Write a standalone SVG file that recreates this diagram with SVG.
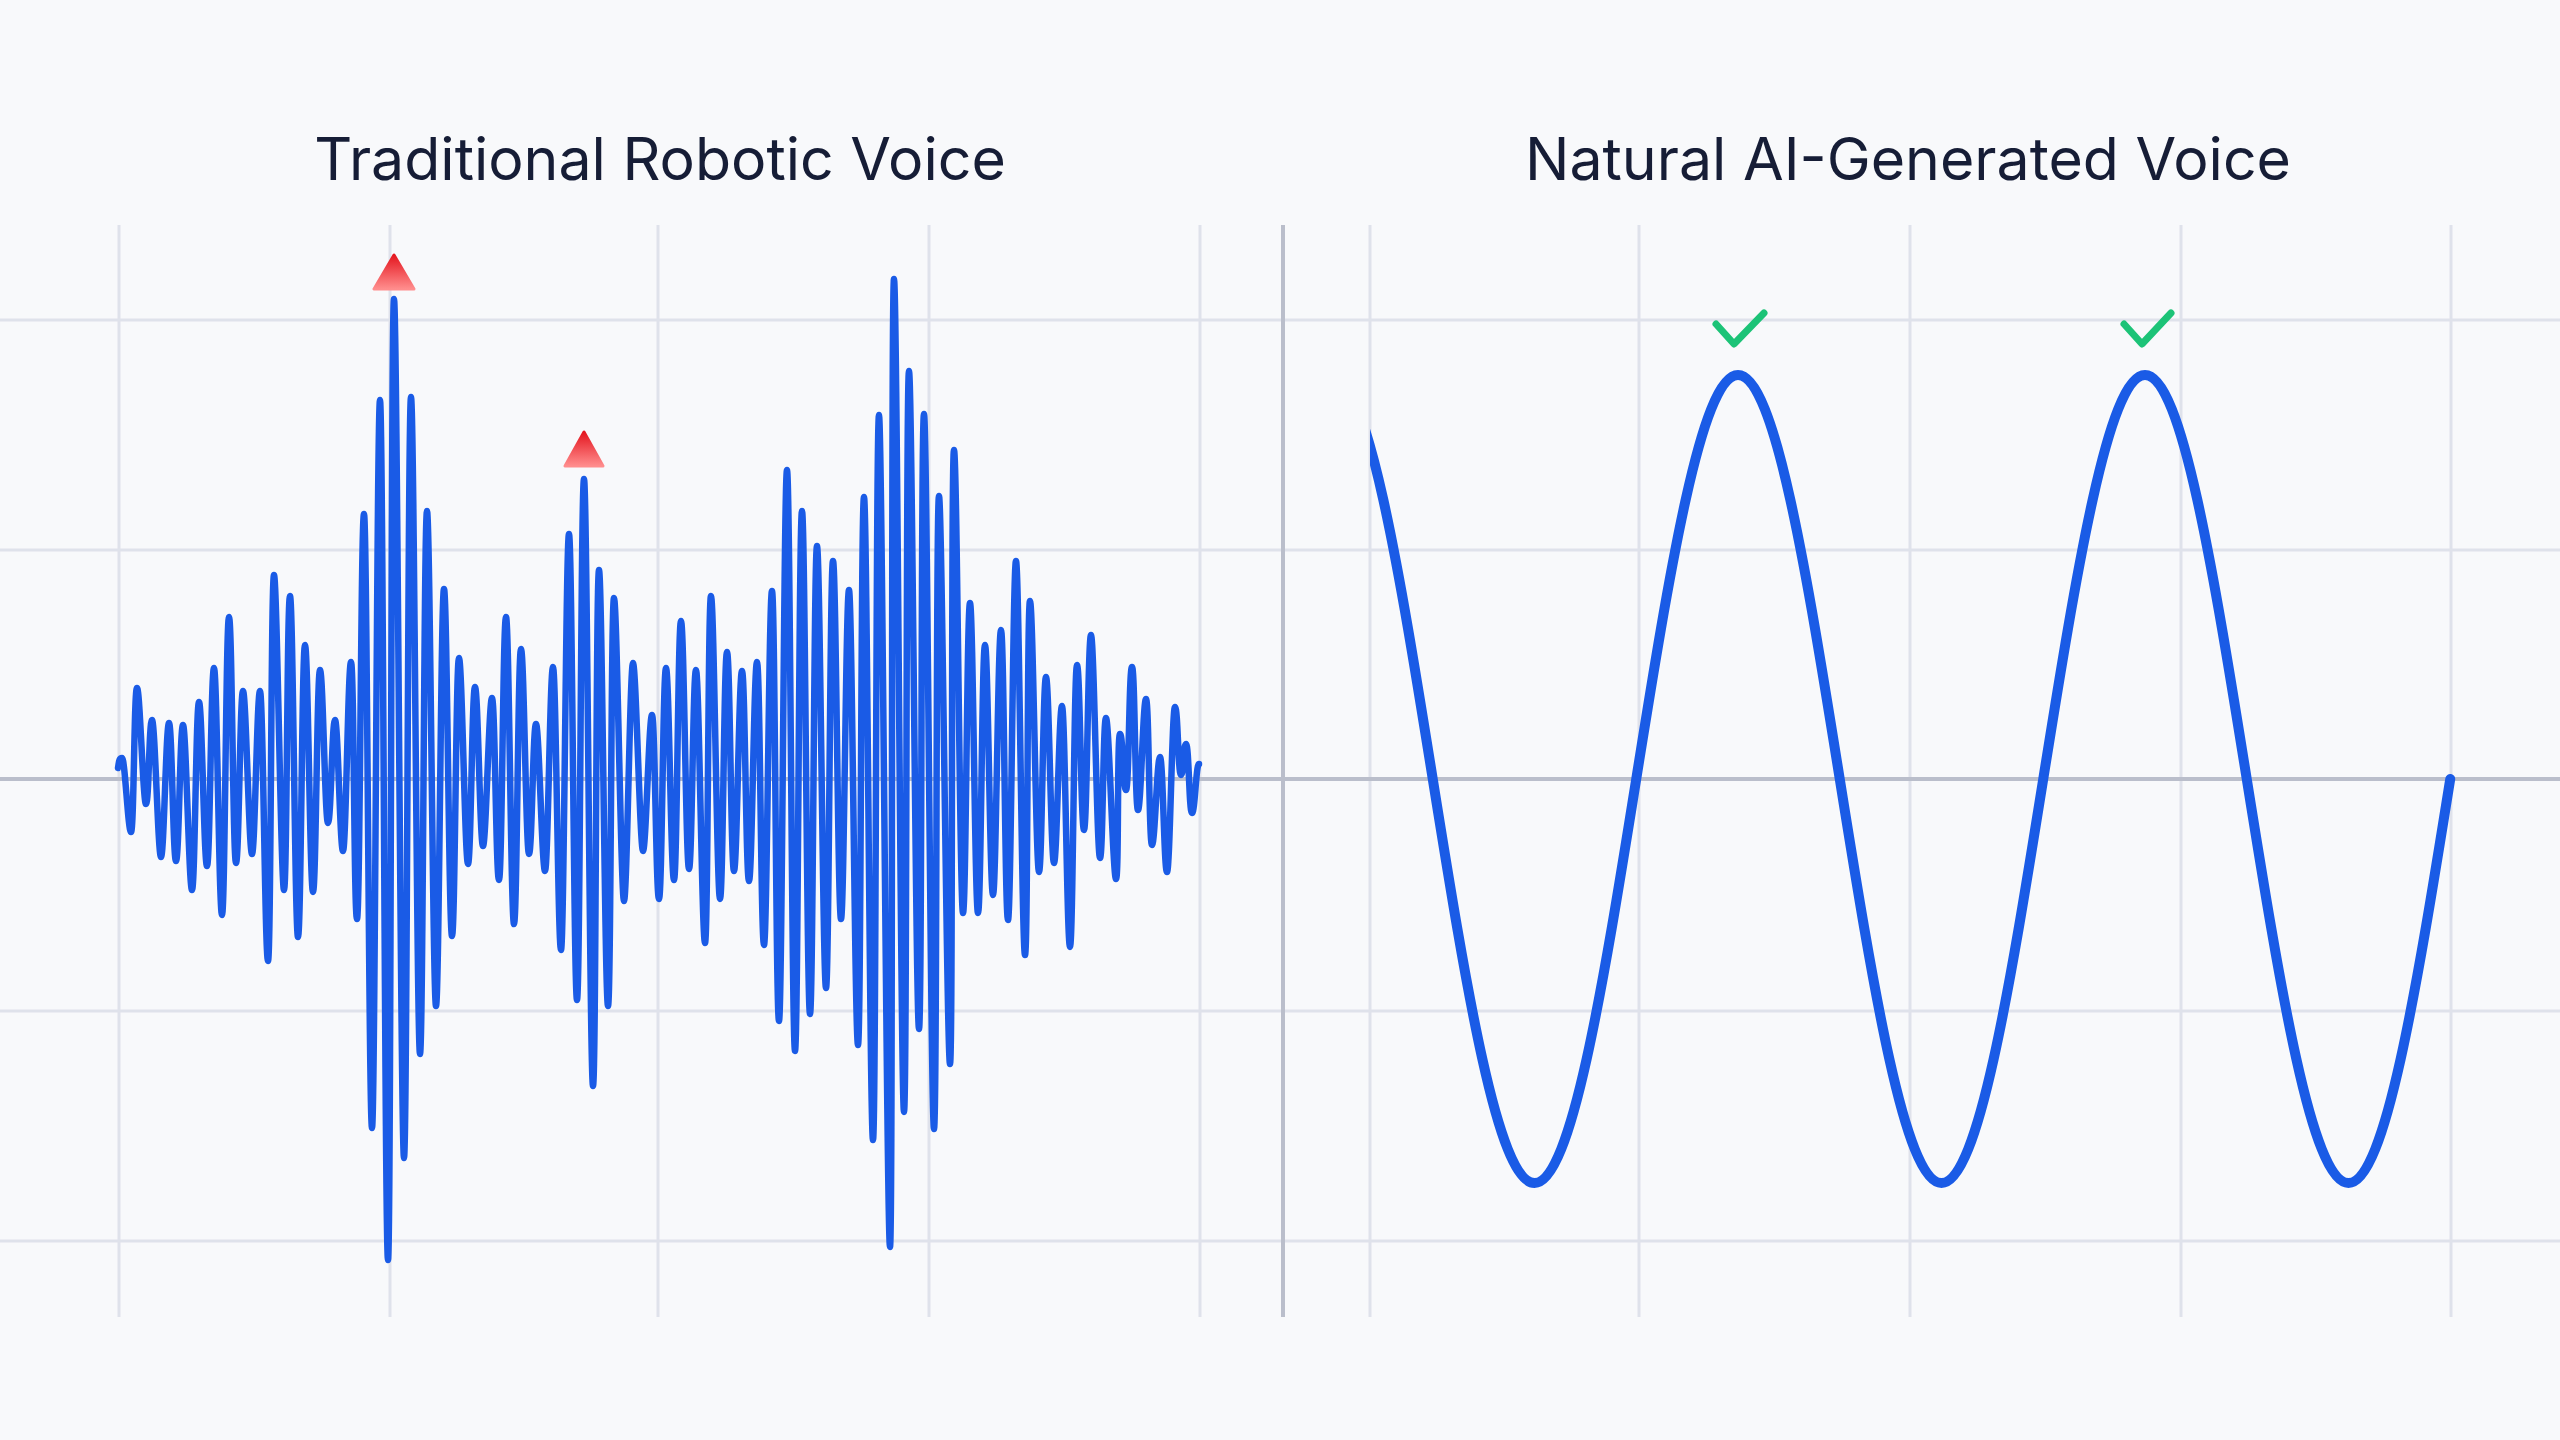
<svg xmlns="http://www.w3.org/2000/svg" width="2560" height="1440" viewBox="0 0 2560 1440">
<defs>
<style>
.grid{stroke:#dfe2eb;stroke-width:3;fill:none}
.axis{stroke:#babecb;stroke-width:4;fill:none}
.wave{stroke:#1a5be6;fill:none;stroke-linejoin:round;stroke-linecap:round}
.title{font-family:Inter,"Liberation Sans",sans-serif;font-size:59px;fill:#161d36;text-anchor:middle}
.check{stroke:#1cc377;stroke-width:7;fill:none;stroke-linecap:round;stroke-linejoin:round}
.warn{fill:url(#redGrad);stroke:url(#redGrad);stroke-width:3;stroke-linejoin:round}
</style>
<linearGradient id="redGrad" x1="0" y1="0" x2="0" y2="1">
<stop offset="0" stop-color="#e4161f"/>
<stop offset="1" stop-color="#ff8d8d"/>
</linearGradient>
<clipPath id="sineClip"><rect x="1370" y="0" width="1190" height="1440"/></clipPath>
</defs>
<rect width="2560" height="1440" fill="#f8f9fb"/>
<g id="grid">
<line class="grid" x1="0" y1="320" x2="2560" y2="320"/>
<line class="grid" x1="0" y1="550" x2="2560" y2="550"/>
<line class="grid" x1="0" y1="1011" x2="2560" y2="1011"/>
<line class="grid" x1="0" y1="1241" x2="2560" y2="1241"/>
<line class="grid" x1="119" y1="225" x2="119" y2="1317"/>
<line class="grid" x1="390" y1="225" x2="390" y2="1317"/>
<line class="grid" x1="658" y1="225" x2="658" y2="1317"/>
<line class="grid" x1="929" y1="225" x2="929" y2="1317"/>
<line class="grid" x1="1200" y1="225" x2="1200" y2="1317"/>
<line class="grid" x1="1370" y1="225" x2="1370" y2="1317"/>
<line class="grid" x1="1639" y1="225" x2="1639" y2="1317"/>
<line class="grid" x1="1910" y1="225" x2="1910" y2="1317"/>
<line class="grid" x1="2181" y1="225" x2="2181" y2="1317"/>
<line class="grid" x1="2451" y1="225" x2="2451" y2="1317"/>
<line class="axis" x1="0" y1="779" x2="2560" y2="779"/>
<line class="axis" x1="1283" y1="225" x2="1283" y2="1317"/>
</g>
<g id="title-left"><text class="title" x="660" y="180">Traditional Robotic Voice</text></g>
<g id="title-right"><text class="title" x="1908" y="180">Natural AI-Generated Voice</text></g>
<g id="robotic-wave">
<path class="wave" stroke-width="6.5" d="M118 768 C119 762 119 758 122 758 S128 832 131 832 S134 688 137 688 S143 804 146 804 S149 720 152 720 S158 857 161 857 S166 723 169 723 S173 861 176 861 S180 725 183 725 S189 890 192 890 S196 702 199 702 S204 866 207 866 S211 668 214 668 S219 915 222 915 S226 617 229 617 S233 863 236 863 S240 691 243 691 S249 854 252 854 S257 691 260 691 S265 961 268 961 S271 575 274 575 S281 890 284 890 S287 596 290 596 S295 937 298 937 S302 645 305 645 S310 892 313 892 S317 670 320 670 S325 823 328 823 S332 720 335 720 S340 851 343 851 S348 662 351 662 S354 919 357 919 S361 514 364 514 S369 1128 372 1128 S377 400 380 400 S385 1260 388 1260 S391 299 394 299 S401 1158 404 1158 S408 397 411 397 S417 1054 420 1054 S424 511 427 511 S433 1006 436 1006 S441 589 444 589 S449 936 452 936 S456 658 459 658 S465 864 468 864 S472 687 475 687 S480 846 483 846 S489 698 492 698 S496 880 499 880 S503 617 506 617 S511 924 514 924 S518 649 521 649 S526 854 529 854 S533 724 536 724 S542 871 545 871 S550 667 553 667 S558 950 561 950 S566 534 569 534 S574 1000 577 1000 S581 479 584 479 S590 1086 593 1086 S596 570 599 570 S605 1006 608 1006 S611 598 614 598 S621 901 624 901 S630 663 633 663 S640 851 643 851 S649 715 652 715 S656 899 659 899 S663 668 666 668 S671 880 674 880 S678 621 681 621 S686 869 689 869 S693 670 696 670 S702 943 705 943 S708 596 711 596 S717 899 720 899 S724 652 727 652 S731 871 734 871 S739 671 742 671 S746 881 749 881 S754 662 757 662 S761 945 764 945 S769 591 772 591 S776 1021 779 1021 S784 470 787 470 S792 1051 795 1051 S799 511 802 511 S807 1014 810 1014 S814 546 817 546 S823 988 826 988 S830 561 833 561 S838 919 841 919 S846 590 849 590 S855 1045 858 1045 S861 497 864 497 S870 1140 873 1140 S876 415 879 415 S887 1247 890 1247 S891 279 894 279 S901 1112 904 1112 S906 371 909 371 S916 1029 919 1029 S921 414 924 414 S931 1129 934 1129 S936 496 939 496 S947 1064 950 1064 S951 450 954 450 S960 913 963 913 S967 603 970 603 S975 913 978 913 S982 645 985 645 S990 895 993 895 S998 630 1001 630 S1005 920 1008 920 S1013 561 1016 561 S1022 955 1025 955 S1027 601 1030 601 S1036 872 1039 872 S1043 677 1046 677 S1051 863 1054 863 S1059 706 1062 706 S1067 947 1070 947 S1074 665 1077 665 S1081 830 1084 830 S1088 635 1091 635 S1097 858 1100 858 S1103 718 1106 718 S1113 879 1116 879 S1117 734 1120 734 S1123 790 1126 790 S1129 667 1132 667 S1135 810 1138 810 S1143 699 1146 699 S1149 845 1152 845 S1157 757 1160 757 S1164 872 1167 872 S1172 707 1175 707 S1178 775 1181 775 S1183 744 1186 744 S1189 813 1192 813 S1196 764 1199 764"/>
</g>
<g id="warning-1"><polygon class="warn" points="394,255 374,289 414,289"/></g>
<g id="warning-2"><polygon class="warn" points="584,432 565,466 603,466"/></g>
<g id="natural-wave">
<path class="wave" stroke-width="10" clip-path="url(#sineClip)" d="M1331 375 C1367.82 375 1399.56 572 1432.75 779 C1465.94 986 1497.68 1183 1534.5 1183 C1571.32 1183 1603.06 986 1636.25 779 C1669.44 572 1701.18 375 1738 375 C1774.82 375 1806.56 572 1839.75 779 C1872.94 986 1904.68 1183 1941.5 1183 C1978.32 1183 2010.06 986 2043.25 779 C2076.44 572 2108.18 375 2145 375 C2181.82 375 2213.56 572 2246.75 779 C2279.94 986 2311.68 1183 2348.5 1183 C2385.32 1183 2417.06 986 2450.25 779"/>
</g>
<g id="check-1"><polyline class="check" points="1716,324 1734,344 1764,313"/></g>
<g id="check-2"><polyline class="check" points="2124,324 2142,344 2171,313"/></g>
</svg>
